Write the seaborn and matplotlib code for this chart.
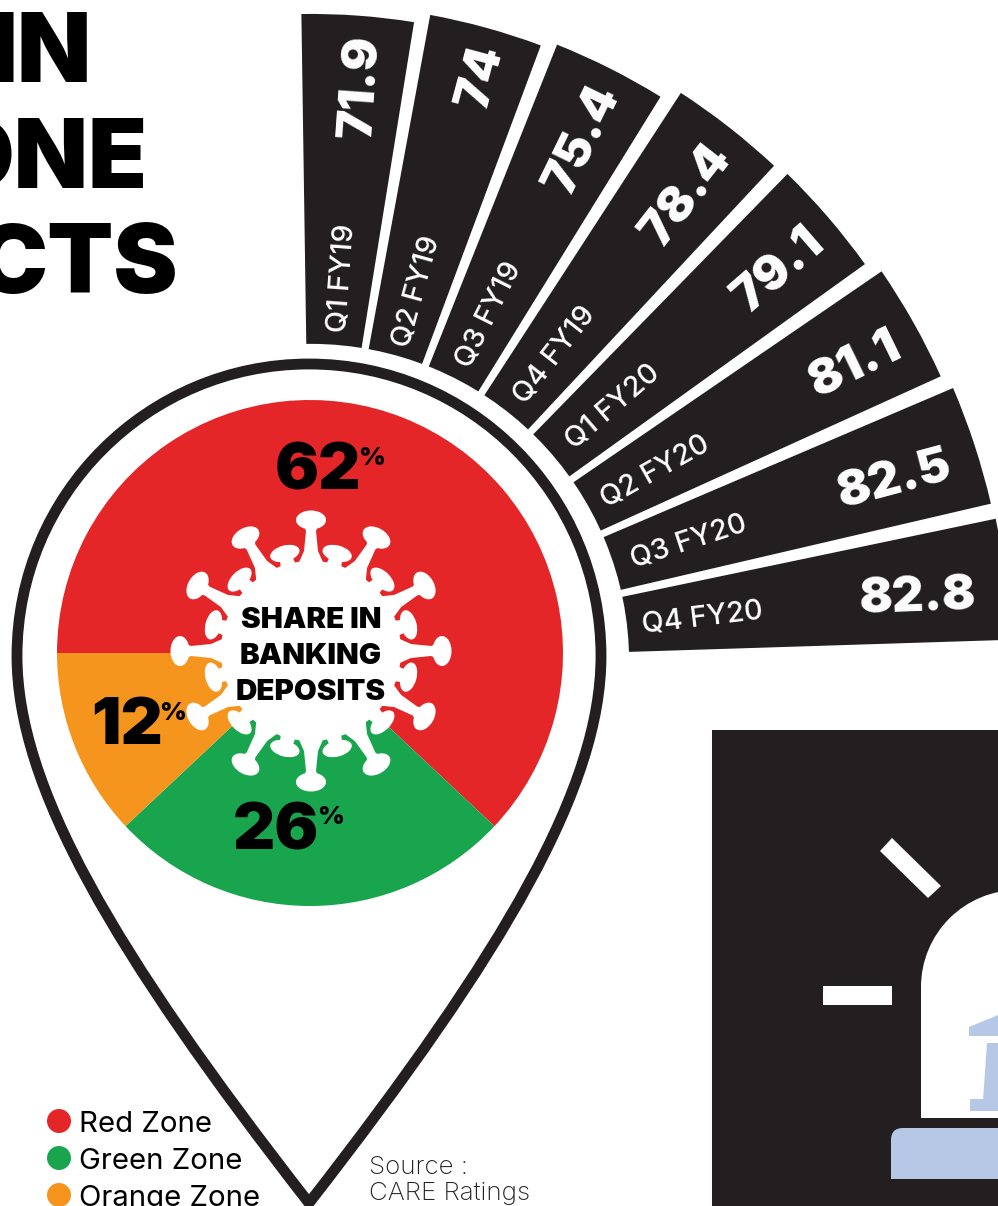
import numpy as np
import pandas as pd
import matplotlib
matplotlib.use("Agg")
import matplotlib.pyplot as plt
from matplotlib.patches import Circle, Ellipse, Polygon, PathPatch, Rectangle, FancyBboxPatch
from matplotlib.path import Path
import seaborn as sns

# Credit-deposit ratio by quarter
quarters = ["Q1 FY19", "Q2 FY19", "Q3 FY19", "Q4 FY19", "Q1 FY20", "Q2 FY20", "Q3 FY20", "Q4 FY20"]
cd_ratio = [71.9, 74, 75.4, 78.4, 79.1, 81.1, 82.5, 82.8]
ratio_labels = ["71.9", "74", "75.4", "78.4", "79.1", "81.1", "82.5", "82.8"]

# Share in banking deposits by zone
zones = ["Red Zone", "Green Zone", "Orange Zone"]
zone_share = [62, 26, 12]

title_lines = ["IN", "ONE", "CTS"]
centre_lines = ["SHARE IN", "BANKING", "DEPOSITS"]
source_lines = ["Source :", "CARE Ratings"]

W, H = 998, 1206
INK = "#231f20"
BLUE = "#b7c8e6"
zone_palette = sns.color_palette(["#e52628", "#19a54d", "#f6951d"])

sns.set_theme(style="white")
plt.rcParams["font.family"] = ["Inter", "DejaVu Sans"]

fig = plt.figure(figsize=(W / 100, H / 100), dpi=100, facecolor="white")


def px_axes(zorder):
    a = fig.add_axes([0, 0, 1, 1], zorder=zorder)
    a.set_xlim(0, W)
    a.set_ylim(H, 0)
    a.axis("off")
    return a


base = px_axes(0)

# Map pin outline
cx, cy, r = 309, 656, 292
tip = (309, 1203)
k = 0.5523 * r
pin = Path(
    [(cx - r, cy), (cx - r, cy - k), (cx - k, cy - r), (cx, cy - r),
     (cx + k, cy - r), (cx + r, cy - k), (cx + r, cy),
     (cx + r, cy + 130), (cx + 197, cy + 294), tip,
     (cx - 197, cy + 294), (cx - r, cy + 130), (cx - r, cy), (cx - r, cy)],
    [Path.MOVETO] + [Path.CURVE4] * 12 + [Path.CLOSEPOLY],
)
base.add_patch(PathPatch(pin, fc="white", ec=INK, lw=7.8, joinstyle="miter"))

# Alarm panel at lower right
base.add_patch(Rectangle((712, 730), 300, 490, fc=INK, ec="none"))
base.add_patch(Rectangle((921, 987), 100, 131, fc="white", ec="none"))
base.add_patch(Circle((1018, 987), 97, fc="white", ec="none"))
base.add_patch(Rectangle((823, 986), 69, 19, fc="white", ec="none"))
base.add_patch(Polygon([(892, 838), (880, 851), (928, 898), (941, 886)], fc="white", ec="none"))
base.add_patch(FancyBboxPatch((903, 1140), 120, 39, boxstyle="round,pad=12", fc=BLUE, ec="none"))
base.add_patch(Rectangle((885, 1179), 140, 14, fc=INK, ec="none"))
base.add_patch(Polygon([(969, 1027), (998, 1015), (998, 1036), (969, 1036)], fc=BLUE, ec="none"))
base.add_patch(Polygon([(987, 1043), (998, 1043), (998, 1100), (983, 1100)], fc=BLUE, ec="none"))
base.add_patch(Rectangle((970, 1099), 28, 12, fc=BLUE, ec="none"))

# Headline, running off the left edge
for line, right, baseline in zip(title_lines, [92, 148, 178], [82, 188, 293]):
    base.text(right, baseline, line, ha="right", va="baseline", fontsize=69.5,
              fontweight="black", color="black", clip_on=True)

# Legend and source
for i, (name, colour) in enumerate(zip(zones, zone_palette)):
    y = 1121 + 37 * i
    base.add_patch(Circle((59, y), 12, fc=colour, ec="none"))
    base.text(79, y + 11, name, fontsize=21.1, fontweight="regular", color="black", va="baseline")
for i, line in enumerate(source_lines):
    base.text(369, 1174 + 26 * i, line, fontsize=18.7, fontweight="light", color="#222222", va="baseline")

# Radial bars: one polar axes centred on the fan
fan_x, fan_y, px_per_unit, origin = 311, 662, 4.72, -65.4
rmax = 100
half = px_per_unit * (rmax - origin)
polar = fig.add_axes([(fan_x - half) / W, (H - fan_y - half) / H, 2 * half / W, 2 * half / H],
                     projection="polar", zorder=1)
polar.patch.set_alpha(0)
theta_deg = 85.85 - 11.29 * np.arange(len(cd_ratio))
frame = pd.DataFrame({"theta": np.deg2rad(theta_deg), "ratio": cd_ratio})
sns.barplot(data=frame, x="theta", y="ratio", native_scale=True, width=10 / 11.29,
            color=INK, saturation=1, linewidth=0, orient="x", errorbar=None, ax=polar)
polar.set_rorigin(origin)
polar.set_ylim(2, rmax)
polar.set_xlim(0, 2 * np.pi)
polar.axis("off")

# Text layout along each bar, in pixels from the fan centre
period_radius = [385, 385, 390, 392, 395, 393, 396, 394]
value_radius = [577, 610, 589, 599, 610, 620, 611, 610]
value_tilt = [86, 75, 64, 52, 41, 26, 15, 2]
for th, q, lab, pr, vr, tilt in zip(theta_deg, quarters, ratio_labels, period_radius, value_radius, value_tilt):
    polar.text(np.deg2rad(th - 0.4), pr / px_per_unit + origin, q, rotation=th, rotation_mode="anchor",
               ha="center", va="center", fontsize=20.7, color="white", fontweight="medium")
    polar.text(np.deg2rad(th - 0.8), vr / px_per_unit + origin, lab, rotation=tilt, rotation_mode="anchor",
               ha="center", va="center", fontsize=35.5, color="white", fontweight="black")

# Zone shares
pie_r = 253
pie_cx, pie_cy = 310, 653
pie_ax = fig.add_axes([(pie_cx - 1.25 * pie_r) / W, (H - pie_cy - 1.25 * pie_r) / H,
                       2.5 * pie_r / W, 2.5 * pie_r / H], zorder=2)
pie_ax.pie(zone_share, colors=zone_palette, startangle=180, counterclock=False,
           wedgeprops={"linewidth": 0})

top = px_axes(3)

# Virus silhouette in the middle of the pie
c = np.array([311.0, 651.0])
top.add_patch(Circle(c, 90, fc="white", ec="none"))
for deg in np.arange(0, 360, 30):
    a = np.deg2rad(deg)
    u = np.array([np.cos(a), -np.sin(a)])
    n = np.array([-u[1], u[0]])
    stem = [c + u * 82 + n * 15, c + u * 100 + n * 7, c + u * 120 + n * 5, c + u * 130 + n * 9,
            c + u * 130 - n * 9, c + u * 120 - n * 5, c + u * 100 - n * 7, c + u * 82 - n * 15]
    top.add_patch(Polygon(stem, fc="white", ec="none"))
    top.add_patch(Ellipse(c + u * 131, 19, 30, angle=-deg, fc="white", ec="none"))
    b = np.deg2rad(deg + 15)
    v = np.array([np.cos(b), -np.sin(b)])
    m = np.array([-v[1], v[0]])
    top.add_patch(Polygon([c + v * 85 + m * 8, c + v * 100 + m * 6, c + v * 100 - m * 6, c + v * 85 - m * 8],
                          fc="white", ec="none"))
    top.add_patch(Ellipse(c + v * 101, 16, 30, angle=-deg - 15, fc="white", ec="none"))

for line, baseline in zip(centre_lines, [628, 664, 700]):
    top.text(311, baseline, line, ha="center", va="baseline", fontsize=21.3,
             fontweight="black", color="black")

share_pos = [(318, 489, 372, 465), (276, 849, 331, 824), (127, 744, 173, 720)]
for share, (x, y, px, py) in zip(zone_share, share_pos):
    top.text(x, y, str(share), ha="center", va="baseline", fontsize=47, fontweight="black", color="black")
    top.text(px, py, "%", ha="center", va="baseline", fontsize=18.5, fontweight="black", color="black")

fig.savefig("out.png", dpi=100)
